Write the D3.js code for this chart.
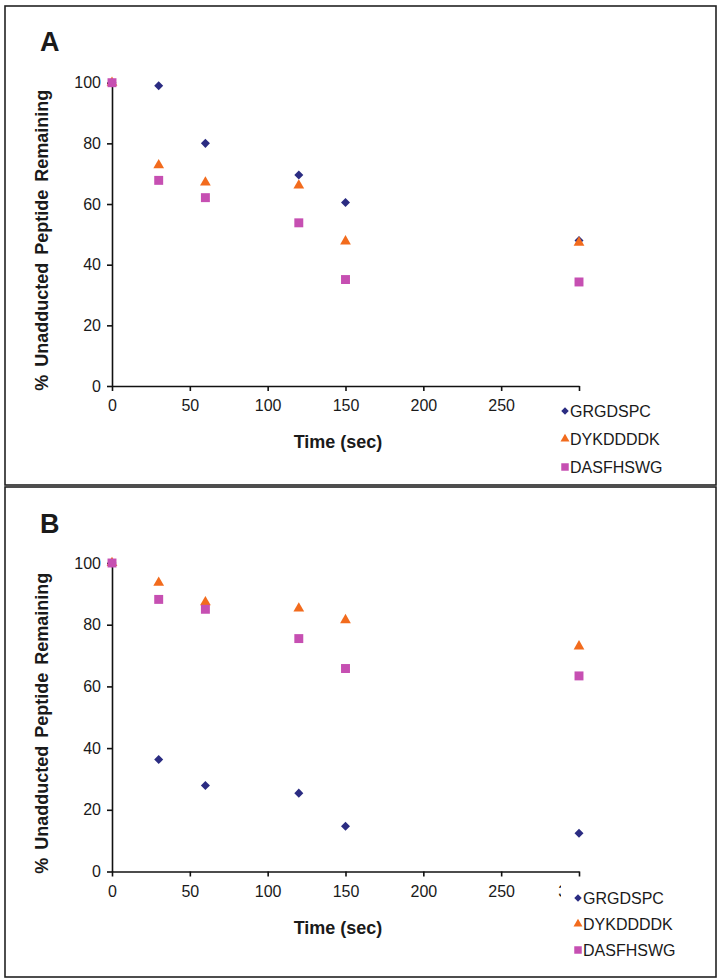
<!DOCTYPE html>
<html>
<head>
<meta charset="utf-8">
<script src="https://cdn.jsdelivr.net/npm/d3@7"></script>
<style>
  html, body { margin: 0; padding: 0; background: #fff; }
  svg { display: block; }
  text { font-family: "Liberation Sans", Arial, sans-serif; fill: #1a1a1a; }
</style>
</head>
<body>
<svg id="chart" width="722" height="979"></svg>
<script>
// ---- data ----
const times = [0, 30, 60, 120, 150, 300];
const seriesNames = ["GRGDSPC", "DYKDDDDK", "DASFHSWG"];
const panelALabel = "A";
const panelBLabel = "B";
const panelA_GRGDSPC  = [100, 99, 80, 69.6, 60.5, 48];
const panelA_DYKDDDDK = [100, 72.8, 67.1, 66.1, 47.7, 47.3];
const panelA_DASFHSWG = [100, 67.8, 62.1, 53.8, 35.1, 34.3];
const panelB_GRGDSPC  = [100, 36.3, 27.9, 25.4, 14.7, 12.4];
const panelB_DYKDDDDK = [100, 93.6, 87.3, 85.3, 81.5, 73.0];
const panelB_DASFHSWG = [100, 88.2, 85.0, 75.5, 65.8, 63.4];
const xTicks = [0, 50, 100, 150, 200, 250, 300];
const yTicks = [0, 20, 40, 60, 80, 100];
const xTitle = "Time (sec)";
const yTitle = "% Unadducted Peptide Remaining";

const colors = ["#2b2c82", "#f26b1d", "#c64fb2"];
const symbols = [d3.symbolDiamond2, d3.symbolTriangle, d3.symbolSquare];
const symSizes = [52, 50, 80];

const svg = d3.select("#chart");
const defs = svg.append("defs");

function drawPanel(cfg) {
  const g = svg.append("g");
  // border
  g.append("rect").attr("x", cfg.box[0]).attr("y", cfg.box[1])
    .attr("width", cfg.box[2]).attr("height", cfg.box[3])
    .attr("fill", "none").attr("stroke", "#222").attr("stroke-width", 1.6);

  const x = d3.scaleLinear().domain([0, 300]).range([112, 579]);
  const y = d3.scaleLinear().domain([0, 100]).range([cfg.y0, cfg.y100]);

  // panel letter
  g.append("text").attr("x", 40).attr("y", cfg.letterY)
    .attr("font-size", 27).attr("font-weight", "bold").text(cfg.letter);

  // axes
  const xa = g.append("g").attr("transform", `translate(0,${cfg.y0})`)
    .call(d3.axisBottom(x).tickValues(xTicks).tickSize(5).tickSizeOuter(0).tickPadding(9));
  const ya = g.append("g").attr("transform", `translate(112,0)`)
    .call(d3.axisLeft(y).tickValues(yTicks).tickSize(5).tickSizeOuter(0).tickPadding(6));
  [xa, ya].forEach(a => {
    a.select(".domain").attr("stroke", "#111").attr("stroke-width", 1.6);
    a.selectAll(".tick line").attr("stroke", "#111").attr("stroke-width", 1.6);
    a.selectAll(".tick text").attr("font-size", 16).attr("fill", "#1a1a1a")
      .attr("font-family", "Liberation Sans, Arial, sans-serif");
  });
  // the last tick label (300) lies under the legend: only a sliver of it shows
  const clipId = "clip" + cfg.letter;
  const localEnd = cfg.sliverEnd - x(300) - cfg.sliverShift; // in the label's own coordinates
  defs.append("clipPath").attr("id", clipId).append("rect")
    .attr("x", -60).attr("y", 0).attr("width", Math.max(0, localEnd + 60)).attr("height", 40);
  xa.selectAll(".tick").filter(d => d === 300).select("text")
    .attr("transform", `translate(${cfg.sliverShift},0)`)
    .attr("clip-path", `url(#${clipId})`)
    .style("display", cfg.showSliver ? null : "none");

  // axis titles
  g.append("text").attr("x", 338).attr("y", cfg.y0 + 62)
    .attr("text-anchor", "middle").attr("font-size", 18).attr("font-weight", "bold")
    .text(xTitle);
  g.append("text")
    .attr("transform", `translate(48,${(cfg.y0 + cfg.y100) / 2 + 6}) rotate(-90)`)
    .attr("text-anchor", "middle").attr("font-size", 18).attr("font-weight", "bold")
    .attr("word-spacing", 3)
    .text(yTitle);

  // points: diamonds first, then triangles, squares on top
  [0, 1, 2].forEach(si => {
    g.append("g").selectAll("path").data(cfg.series[si].map((v, i) => ({ t: times[i], v })))
      .join("path")
      .attr("transform", d => `translate(${x(d.t)},${y(d.v)})`)
      .attr("d", d3.symbol().type(symbols[si]).size(symSizes[si]))
      .attr("fill", colors[si]);
  });

  // legend
  const lg = g.append("g");
  seriesNames.forEach((name, si) => {
    const ly = cfg.legY[si];
    lg.append("path").attr("transform", `translate(${cfg.legX},${ly})`)
      .attr("d", d3.symbol().type(symbols[si]).size(symSizes[si] * 0.7))
      .attr("fill", colors[si]);
    lg.append("text").attr("x", cfg.legX + 5).attr("y", ly + 6)
      .attr("font-size", 16).text(name);
  });
}

drawPanel({
  box: [5, 6, 711, 479], letter: panelALabel, letterY: 51,
  y0: 386, y100: 82.7,
  series: [panelA_GRGDSPC, panelA_DYKDDDDK, panelA_DASFHSWG],
  legX: 565, legY: [411, 439, 467], showSliver: false, sliverEnd: 0, sliverShift: 0
});
drawPanel({
  box: [5, 487, 711, 490], letter: panelBLabel, letterY: 533,
  y0: 871.5, y100: 563,
  series: [panelB_GRGDSPC, panelB_DYKDDDDK, panelB_DASFHSWG],
  legX: 578, legY: [898, 924, 950], showSliver: true, sliverEnd: 560.5, sliverShift: -8
});
</script>
</body>
</html>
